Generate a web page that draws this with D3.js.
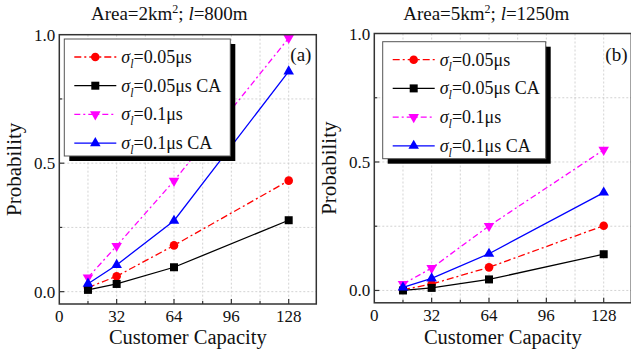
<!DOCTYPE html>
<html>
<head>
<meta charset="utf-8">
<script src="https://cdn.jsdelivr.net/npm/d3@7"></script>
<style>
  body { margin: 0; background: #fff; }
  svg { display: block; }
  text { font-family: "Liberation Serif", Tinos, "Times New Roman", "DejaVu Serif", serif; fill: #111; }
  .grid line { stroke: #c8c8c8; stroke-width: 0.8; stroke-dasharray: 2 2; }
</style>
</head>
<body>
<div id="chart"></div>
<script>
const width = 631, height = 351

// customer capacity on the x axis
const capacity = [16, 32, 64, 128]
const xTicks = [0, 32, 64, 96, 128]
const yTicks = [0, 0.5, 1.0]

const seriesLabels = ['0.05μs', '0.05μs CA', '0.1μs', '0.1μs CA']

// panel (a): Area=2km2, l=800m
const a_sigma005 = [0.016, 0.06, 0.18, 0.432]
const a_sigma005CA = [0.007, 0.03, 0.095, 0.278]
const a_sigma01 = [0.055, 0.178, 0.431, 0.987]
const a_sigma01CA = [0.031, 0.104, 0.276, 0.857]

// panel (b): Area=5km2, l=1250m
const b_sigma005 = [0.003, 0.025, 0.09, 0.252]
const b_sigma005CA = [0.0, 0.01, 0.043, 0.141]
const b_sigma01 = [0.025, 0.087, 0.251, 0.547]
const b_sigma01CA = [0.012, 0.047, 0.143, 0.381]

const styles = [
  {color: '#ff0000', dash: '7 3 2 3', marker: 'circle'},
  {color: '#000000', dash: null, marker: 'square'},
  {color: '#ff00ff', dash: '6 3 2 3', marker: 'down'},
  {color: '#0000ff', dash: null, marker: 'up'}
]

const svg = d3.select('#chart').append('svg')
  .attr('width', width).attr('height', height)

function marker(g, type, x, y, color) {
  if (type === 'circle') {
    g.append('circle').attr('cx', x).attr('cy', y).attr('r', 4.3).attr('fill', color)
  } else if (type === 'square') {
    g.append('rect').attr('x', x - 4).attr('y', y - 4).attr('width', 8).attr('height', 8).attr('fill', color)
  } else {
    const sym = d3.symbol().type(d3.symbolTriangle).size(48)
    g.append('path').attr('d', sym())
      .attr('transform', `translate(${x},${y}) rotate(${type === 'down' ? 180 : 0})`)
      .attr('fill', color)
  }
}

function sigmaLabel(sel, rest) {
  sel.append('tspan').attr('font-style', 'italic').text('σ')
  sel.append('tspan').attr('font-style', 'italic').attr('font-size', 12).attr('dy', 5).text('l')
  sel.append('tspan').attr('dy', -5).text('=' + rest)
}

function drawPanel(opt) {
  const g = svg.append('g').attr('transform', `translate(${opt.left},0)`)
  const pw = 257, top = opt.top, bottom = opt.top + 269.3

  const x = d3.scaleLinear().domain([0, 143.4]).range([0, pw])
  const y = d3.scaleLinear().domain([-0.048, 1.0]).range([bottom, top])

  // grid
  const grid = g.append('g').attr('class', 'grid')
  grid.selectAll('.gx').data(d3.range(16, 143, 16)).enter().append('line')
    .attr('x1', d => x(d)).attr('x2', d => x(d)).attr('y1', top).attr('y2', bottom)
  grid.selectAll('.gy').data([0, 0.25, 0.5, 0.75]).enter().append('line')
    .attr('x1', 0).attr('x2', pw).attr('y1', d => y(d)).attr('y2', d => y(d))

  // series
  opt.series.forEach((vals, i) => {
    const st = styles[i]
    const line = d3.line().x((d, k) => x(capacity[k])).y(d => y(d))
    g.append('path').attr('d', line(vals))
      .attr('fill', 'none').attr('stroke', st.color).attr('stroke-width', 1.3)
      .attr('stroke-dasharray', st.dash)
    vals.forEach((v, k) => marker(g, st.marker, x(capacity[k]), y(v), st.color))
  })

  // frame
  g.append('rect').attr('x', 0).attr('y', top).attr('width', pw).attr('height', bottom - top)
    .attr('fill', 'none').attr('stroke', '#333').attr('stroke-width', 1.5)

  // inward ticks
  const ticks = g.append('g').attr('stroke', '#333').attr('stroke-width', 1.2)
  d3.range(16, 143, 16).forEach(d => {
    const len = d % 32 === 0 ? 5 : 3
    ticks.append('line').attr('x1', x(d)).attr('x2', x(d)).attr('y1', bottom).attr('y2', bottom - len)
  })
  ;[0, 0.25, 0.5, 0.75].forEach(d => {
    const len = d % 0.5 === 0 ? 5 : 3
    ticks.append('line').attr('x1', 0).attr('x2', len).attr('y1', y(d)).attr('y2', y(d))
  })

  // tick labels
  g.selectAll('.xt').data(xTicks).enter().append('text')
    .attr('x', d => x(d)).attr('y', bottom + 18).attr('text-anchor', 'middle')
    .attr('font-size', 17).text(d => d)
  g.selectAll('.yt').data(yTicks).enter().append('text')
    .attr('x', -4).attr('y', d => y(d) + 6).attr('text-anchor', 'end')
    .attr('font-size', 17).text(d => d.toFixed(1))

  // axis titles
  g.append('text').attr('x', pw / 2).attr('y', 344).attr('text-anchor', 'middle')
    .attr('font-size', 20.5).text('Customer Capacity')
  g.append('text').attr('transform', `translate(-38,${(top + bottom) / 2}) rotate(-90)`)
    .attr('text-anchor', 'middle').attr('font-size', 21).text('Probability')

  // title
  const t = g.append('text').attr('x', opt.titleX).attr('y', 20).attr('text-anchor', 'middle').attr('font-size', 19)
  t.append('tspan').text(opt.area)
  t.append('tspan').attr('font-size', 12).attr('dy', -7).text('2')
  t.append('tspan').attr('dy', 7).text('; ')
  t.append('tspan').attr('font-style', 'italic').text('l')
  t.append('tspan').text('=' + opt.len)

  g.append('text').attr('x', pw - 26).attr('y', 61).attr('font-size', 19).text(opt.tag)

  // legend
  const lg = g.append('g').attr('transform', `translate(${opt.legX},${opt.legY})`)
  const lw = opt.legW, lh = 117
  lg.append('rect').attr('x', 5).attr('y', 5).attr('width', lw).attr('height', lh).attr('fill', '#000')
  lg.append('rect').attr('width', lw).attr('height', lh).attr('fill', '#fff').attr('stroke', '#555').attr('stroke-width', 1)
  seriesLabels.forEach((lab, i) => {
    const st = styles[i]
    const cy = 18 + i * 28.7
    lg.append('line').attr('x1', 10).attr('x2', 52).attr('y1', cy).attr('y2', cy)
      .attr('stroke', st.color).attr('stroke-width', 1.3).attr('stroke-dasharray', st.dash)
    marker(lg, st.marker, 31, cy, st.color)
    sigmaLabel(lg.append('text').attr('x', 57).attr('y', cy + 6).attr('font-size', 18), lab)
  })
}

drawPanel({
  left: 59.3, top: 34.7, series: [a_sigma005, a_sigma005CA, a_sigma01, a_sigma01CA],
  area: 'Area=2km', len: '800m', titleX: 110, tag: '(a)', legX: 5, legY: 39, legW: 166
})
drawPanel({
  left: 374.3, top: 33.5, series: [b_sigma005, b_sigma005CA, b_sigma01, b_sigma01CA],
  area: 'Area=5km', len: '1250m', titleX: 112, tag: '(b)', legX: 8.4, legY: 41.7, legW: 163
})
</script>
</body>
</html>
